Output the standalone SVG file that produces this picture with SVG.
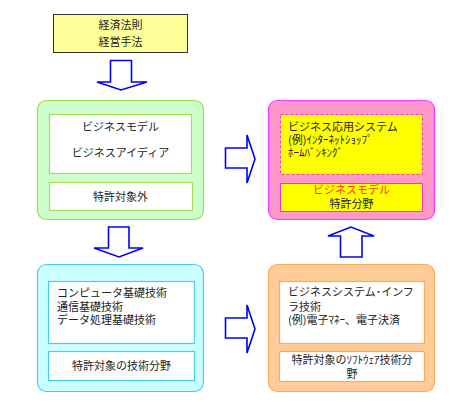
<svg xmlns="http://www.w3.org/2000/svg" width="462" height="404" viewBox="0 0 462 404">
<style>
text{font-family:"Noto Sans CJK JP","Noto Sans",sans-serif;font-size:11px;fill:#222}
.c{text-anchor:middle}
.arrow{fill:#fff;stroke:#0000ff;stroke-width:1.6;stroke-linejoin:miter}
.in{fill:#fff;stroke-width:1.2}
</style>
<rect width="462" height="404" fill="#fff"/>
<g id="connectors">
<path class="arrow" d="M110.5,60.5 H131.5 V82 H147 L121,90 L97,82 H110.5 Z"/>
<path class="arrow" d="M108.5,227 H129 V248 H143 L119,257 L94,248 H108.5 Z"/>
<path class="arrow" d="M225.5,148 H247 V135 L255,159 L247,183 V168 H225.5 Z"/>
<path class="arrow" d="M225.5,318 H247 V305 L255,329 L247,353 V338 H225.5 Z"/>
<path class="arrow" d="M340.5,257 V236 H328 L351,227 L374,236 H362 V257 Z"/>
</g>
<g id="node-top">
<rect x="53.5" y="14.5" width="134" height="38" fill="#ffff99" stroke="#333" stroke-width="1"/>
<text class="c" x="120.5" y="29">経済法則</text>
<text class="c" x="120.5" y="46">経営手法</text>
</g>
<g id="node-green">
<rect x="37.5" y="100.5" width="166" height="119" rx="9" fill="#ccffcc" stroke="#99dd44" stroke-width="1.2"/>
<rect class="in" x="49.5" y="114.5" width="142" height="59" stroke="#aadd55"/>
<text class="c" x="120.5" y="131">ビジネスモデル</text>
<text class="c" x="120.5" y="157">ビジネスアイディア</text>
<rect class="in" x="49.5" y="182.5" width="143" height="28" stroke="#aadd55"/>
<text class="c" x="120.5" y="201">特許対象外</text>
</g>
<g id="node-pink">
<rect x="268.5" y="100.5" width="166" height="119" rx="9" fill="#ff99cc" stroke="#ff33ff" stroke-width="1.2"/>
<rect x="280.5" y="114.5" width="142" height="60" fill="#ffff00" stroke="#ff33cc" stroke-width="1" stroke-dasharray="3,2"/>
<text x="288" y="131">ビジネス応用システム</text>
<text x="288" y="144">(例)ｲﾝﾀｰﾈｯﾄｼｮｯﾌﾟ</text>
<text x="288" y="157">ﾎｰﾑﾊﾞﾝｷﾝｸﾞ</text>
<rect x="280.5" y="183.5" width="142" height="28" fill="#ffff00" stroke="#ff33cc" stroke-width="1"/>
<text class="c" x="351.5" y="194" style="fill:#ff3300">ビジネスモデル</text>
<text class="c" x="351.5" y="208">特許分野</text>
</g>
<g id="node-cyan">
<rect x="37.5" y="264.5" width="166" height="127" rx="9" fill="#ccffff" stroke="#44ccff" stroke-width="1.2"/>
<rect class="in" x="48.5" y="281.5" width="146" height="62" stroke="#44ccff"/>
<text x="57" y="297">コンピュータ基礎技術</text>
<text x="57" y="311">通信基礎技術</text>
<text x="57" y="324">データ処理基礎技術</text>
<rect class="in" x="48.5" y="351.5" width="146" height="29" stroke="#44ccff"/>
<text class="c" x="121.5" y="370">特許対象の技術分野</text>
</g>
<g id="node-orange">
<rect x="268.5" y="264.5" width="166" height="127" rx="9" fill="#ffcc99" stroke="#ffaa55" stroke-width="1.2"/>
<rect class="in" x="279.5" y="281.5" width="145" height="62" stroke="#ffaa55"/>
<text x="288" y="296">ビジネスシステム･インフ</text>
<text x="288" y="311">ラ技術</text>
<text x="288" y="324">(例)電子ﾏﾈｰ、電子決済</text>
<rect class="in" x="279.5" y="351.5" width="145" height="30" stroke="#ffaa55"/>
<text class="c" x="352" y="364">特許対象のｿﾌﾄｳｪｱ技術分</text>
<text class="c" x="352" y="378">野</text>
</g>
</svg>
